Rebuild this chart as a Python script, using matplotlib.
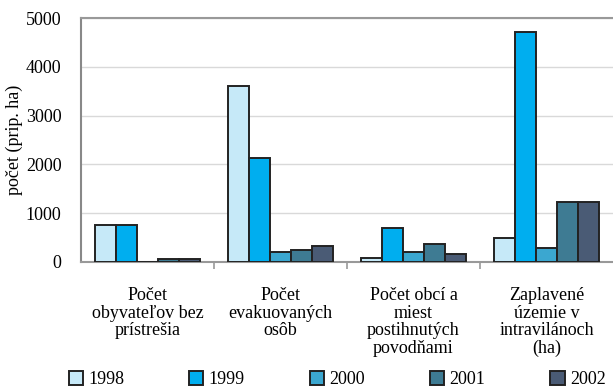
import numpy as np
import matplotlib as mpl
import matplotlib.pyplot as plt

mpl.rc('font', family='serif', size=13)
mpl.rcParams['font.serif'] = ['Liberation Serif', 'Times New Roman', 'DejaVu Serif']

categories = ['Počet\nobyvateľov bez\nprístrešia',
              'Počet\nevakuovaných\nosôb',
              'Počet obcí a\nmiest\npostihnutých\npovodňami',
              'Zaplavené\núzemie v\nintravilánoch\n(ha)']
years = ['1998', '1999', '2000', '2001', '2002']
v1998 = [750, 3600, 90, 500]
v1999 = [750, 2130, 700, 4710]
v2000 = [0, 200, 210, 290]
v2001 = [60, 250, 375, 1230]
v2002 = [60, 330, 170, 1230]
colors = ['#c6e9f8', '#00aeef', '#3ba7d0', '#3e7b93', '#4a5b75']

series = [v1998, v1999, v2000, v2001, v2002]
x = np.arange(len(categories))
w = 0.158

fig = plt.figure(figsize=(6.13, 3.87), dpi=100)
ax = fig.add_axes([0.132, 0.323, 0.868, 0.630])

for i, vals in enumerate(series):
    ax.bar(x + (i - 2) * w, vals, w, color=colors[i], edgecolor='#222222',
           linewidth=1.4, label=years[i], zorder=3)

ax.set_xlim(-0.5, 3.5)
ax.set_ylim(0, 5000)
ax.set_yticks(np.arange(0, 5001, 1000))
ax.yaxis.grid(True, color='#d9d9d9', linewidth=1, zorder=0)
ax.tick_params(axis='y', length=0, pad=14)

ax.set_xticks(x)
ax.set_xticklabels(categories, linespacing=1.05, va='top')
ax.tick_params(axis='x', length=0, pad=18)
ax.set_xticks(np.arange(0.5, 3, 1), minor=True)
ax.tick_params(axis='x', which='minor', length=5, color='#999999', width=1.2)

ax.spines['right'].set_visible(False)
ax.spines['top'].set_color('#999999')
ax.spines['top'].set_linewidth(1.5)
ax.spines['left'].set_color('#888888')
ax.spines['left'].set_linewidth(1.5)
ax.spines['bottom'].set_color('#999999')
ax.spines['bottom'].set_linewidth(1.5)

ax.set_ylabel('počet (prip. ha)', labelpad=2)

fig.legend(loc='lower left', bbox_to_anchor=(0.1, -0.022, 0.9, 0.05), ncol=5,
           mode='expand', frameon=False, handlelength=0.8, handleheight=0.8,
           handletextpad=0.3, borderaxespad=0)

plt.savefig('out.png', dpi=100)
